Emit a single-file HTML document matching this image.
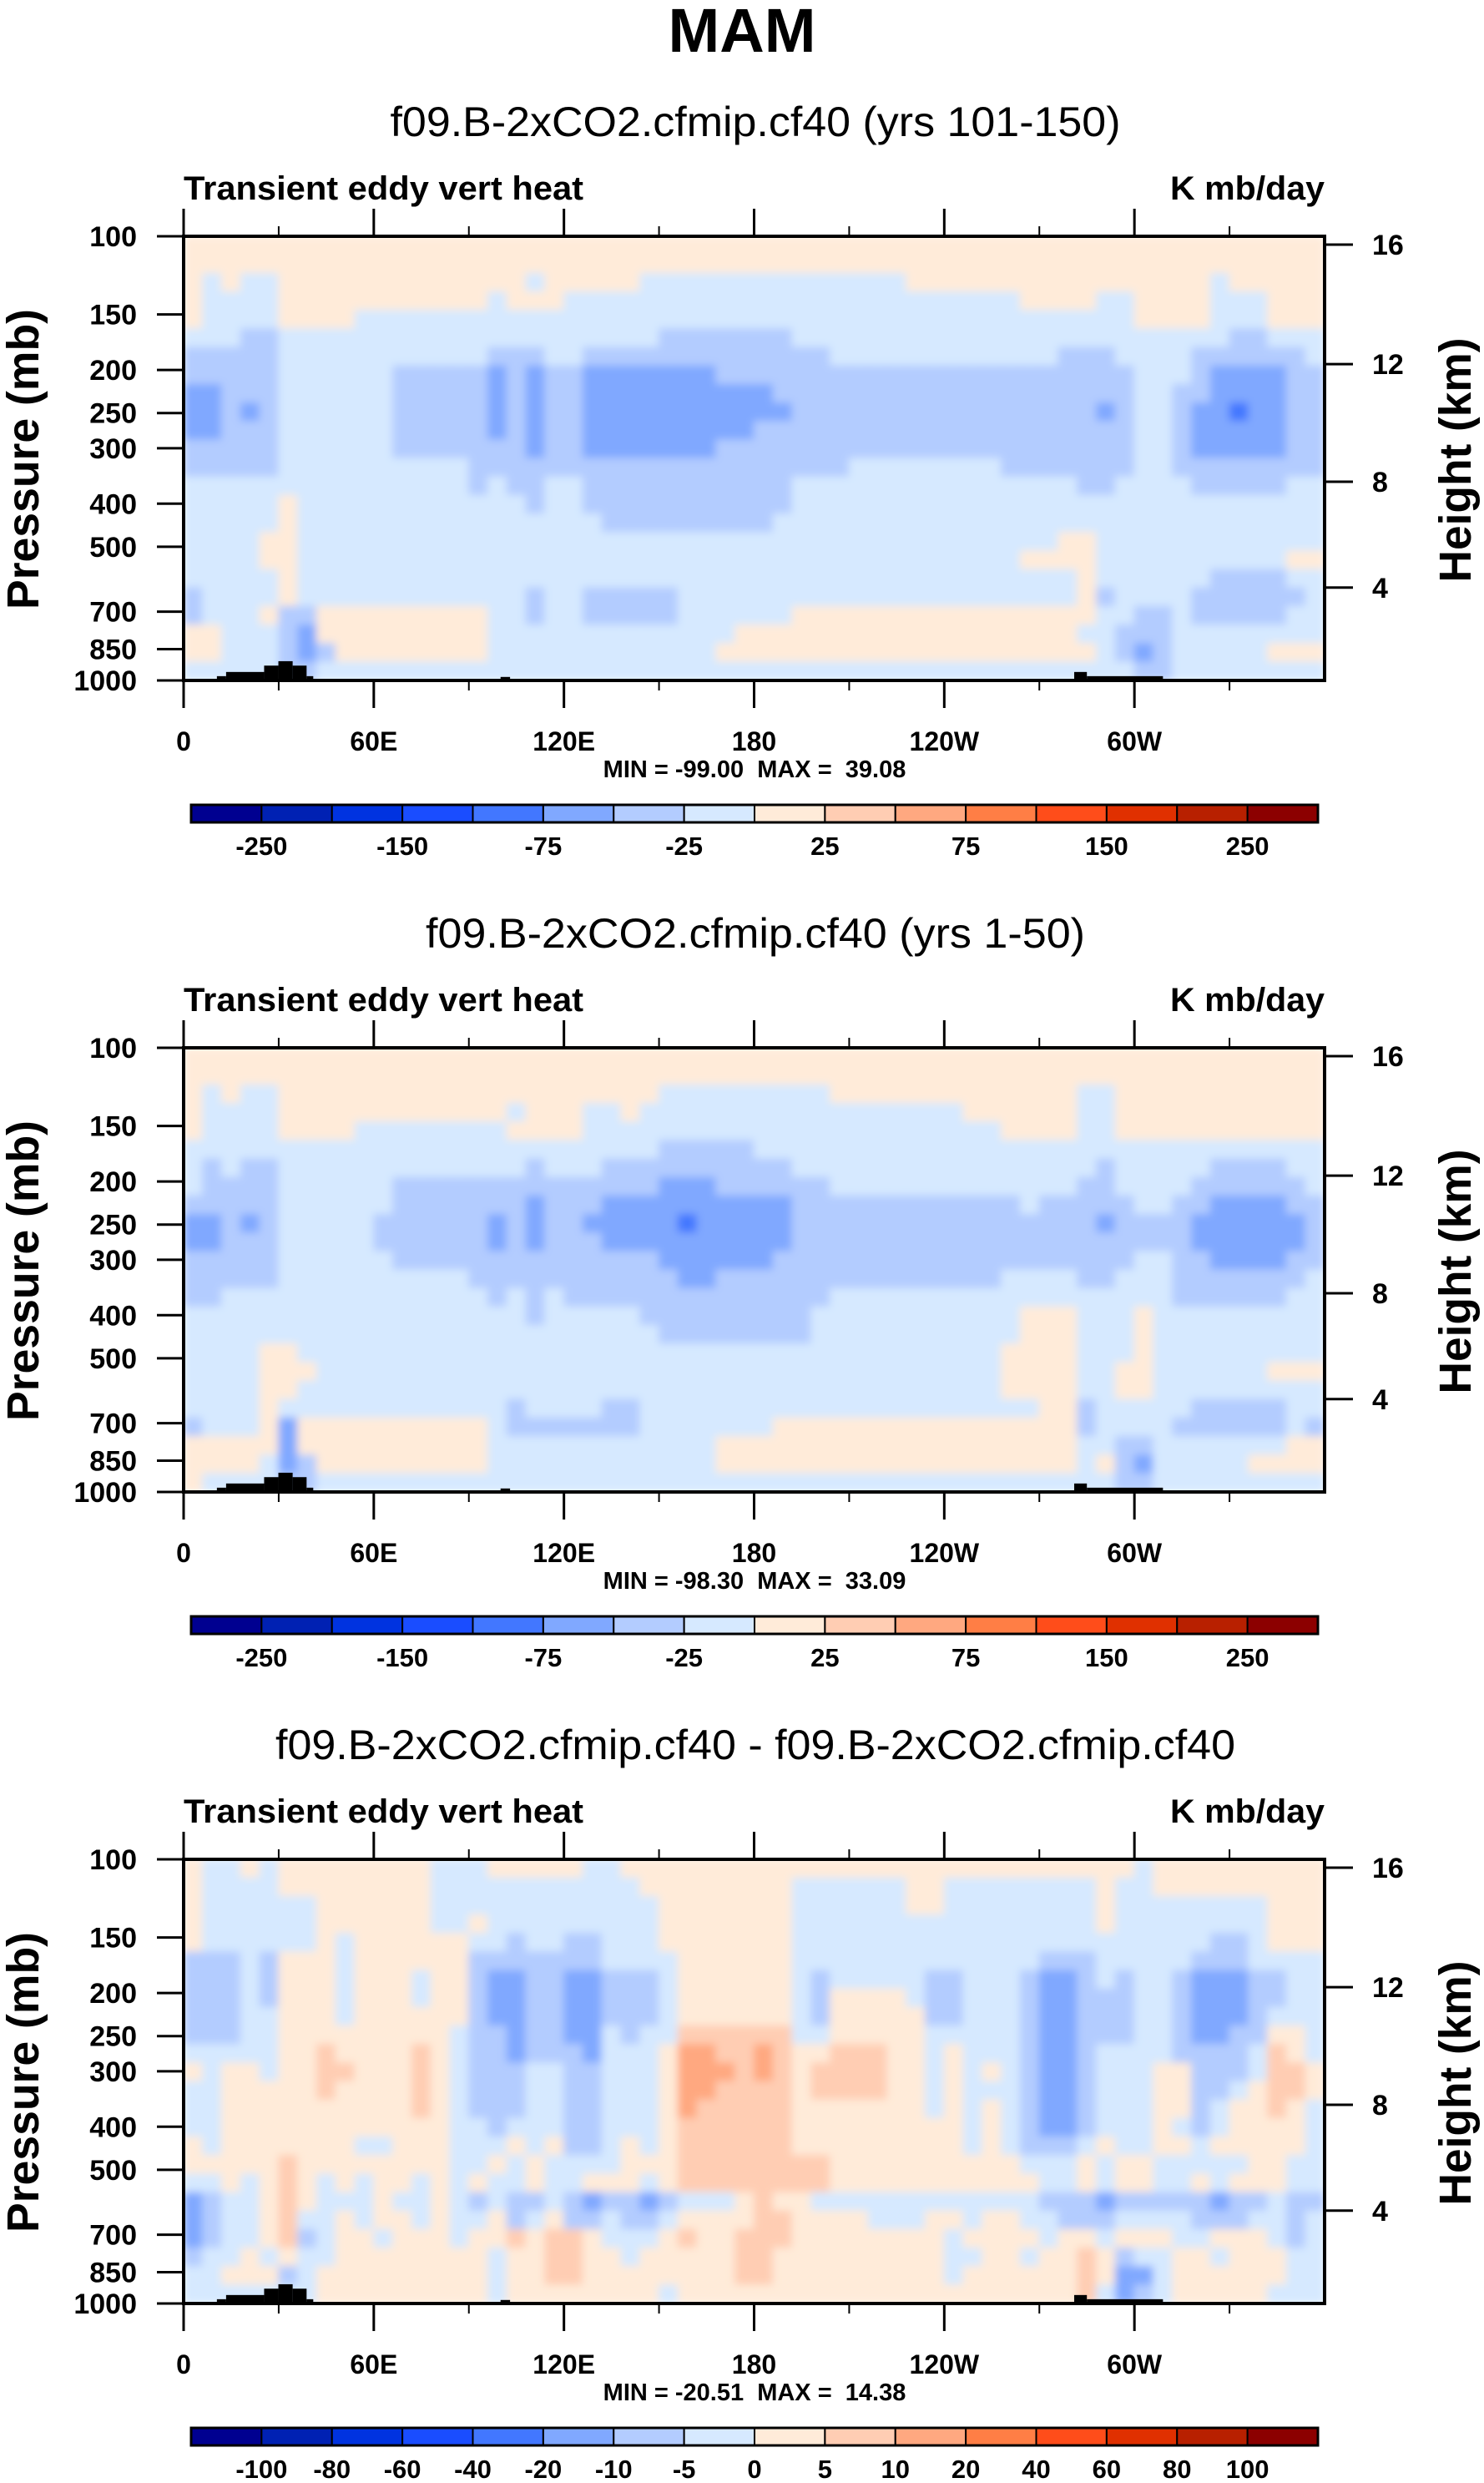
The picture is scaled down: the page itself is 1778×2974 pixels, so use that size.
<!DOCTYPE html>
<html><head><meta charset="utf-8"><title>MAM Transient eddy vert heat</title>
<style>
html,body{margin:0;padding:0;background:#fff;}
svg{display:block;}
text{font-family:"Liberation Sans",Arial,sans-serif;fill:#000;}
</style></head>
<body>
<svg id="chart" xmlns="http://www.w3.org/2000/svg" width="1778" height="2974" viewBox="0 0 1778 2974">
<rect x="0" y="0" width="1778" height="2974" fill="#fff"/>
<text x="889" y="62" text-anchor="middle" font-size="74" font-weight="bold" textLength="177" lengthAdjust="spacingAndGlyphs">MAM</text>
</svg>
<script>
// ---------- data ----------
const lons=[3,9,15,21,27,33,39,45,51,57,63,69,75,81,87,93,99,105,111,117,123,129,135,141,147,153,159,165,171,177,183,189,195,201,207,213,219,225,231,237,243,249,255,261,267,273,279,285,291,297,303,309,315,321,327,333,339,345,351,357];
const levels=[105,115.5,127.2,139.9,154,169.5,186.6,205.4,226.1,248.8,273.8,301.5,331.7,365.2,401.9,442.4,487,536,590,649,715,787,866,953];
const presTicks=[100,150,200,250,300,400,500,700,850,1000];
const heightTicks=["16","12","8","4"];
const heightPressures=[104.4,194,357,618];
const lonTicks=[0,60,120,180,240,300];
const lonTickLabels=["0","60E","120E","180","120W","60W"];
const lonMinorTicks=[30,90,150,210,270,330];
const palette=["#000090","#0021b3","#0033e0","#1a4dff","#4277ff","#80a8ff","#b3ccff","#d6e9ff","#ffebd9","#ffcdb3","#ffa880","#ff7e45","#ff4d1a","#e03000","#b82000","#8c0000"];
const cbLabelsAbs=["-250","-150","-75","-25","25","75","150","250"];
const cbLabelsAbsAt=[1,3,5,7,9,11,13,15];
const cbLabelsDiff=["-100","-80","-60","-40","-20","-10","-5","0","5","10","20","40","60","80","100"];
const cbLabelsDiffAt=[1,2,3,4,5,6,7,8,9,10,11,12,13,14,15];
const topoLon0=[10.5,13.4,25.4,29.9,34.4,38.8,100,281,285];
const topoLon1=[13.4,25.4,29.9,34.4,38.8,40.9,103,285,309];
const topoP=[978,957,926,905,926,978,982,957,978];

const field1=[
"8888888888"+"8888888888"+"8888888888"+"8888888888"+"8888888888"+"8888888888",
"8888888888"+"8888888888"+"8888888888"+"8888888888"+"8888888888"+"8888888888",
"87877"+"8888888888"+"888788888"+"7777777777"+"7777"+"888888"+"8888888888"+"7"+"88888",
"87777"+"8888888888"+"878887777"+"7777777777"+"7777777777"+"8888"+"77"+"8888"+"777"+"888",
"87777"+"8888"+"777777"+"7777777777"+"7777777777"+"7777777777"+"77777"+"8888"+"777"+"888",
"777"+"66"+"7777777777"+"7777777777"+"6666666"+"7777777777"+"7777777777"+"777"+"66"+"777",
"66666"+"777777"+"77777"+"666"+"77"+"6666666666"+"666"+"7777777777"+"7"+"7"+"666"+"777"+"7"+"666666"+"7",
"66666"+"777777"+"66666"+"5"+"6"+"5"+"66"+"5555555"+"666666"+"6666666666"+"66666"+"6"+"77"+"7"+"6"+"5555"+"66",
"55666"+"777777"+"66666"+"5"+"6"+"5"+"66"+"5555555555"+"6"+"6666666666"+"666666"+"66"+"77"+"66"+"5555"+"66",
"55656"+"777777"+"66666"+"5"+"6"+"5"+"66"+"5555555555"+"5"+"6666666666"+"666666"+"5"+"6"+"77"+"6"+"5"+"545"+"5"+"66",
"55666"+"777777"+"66666"+"565"+"66"+"555555555"+"66"+"6666666666"+"6666666"+"6"+"77"+"6"+"55555"+"66",
"66666"+"777777"+"66666"+"66"+"5"+"66"+"5555555"+"6666"+"6666666666"+"6666666"+"6"+"77"+"6"+"55555"+"66",
"66666"+"777777"+"7777"+"666666"+"66666666666"+"666"+"77777777"+"6666666"+"77"+"66666666",
"777777777777777"+"6"+"7"+"66"+"77"+"66666666666"+"777777777777777"+"66"+"7777"+"66666"+"77",
"77777"+"8"+"777777777777"+"6"+"77"+"66666666666"+"7777777777"+"7777777777"+"77777777",
"77777"+"8"+"7777777777777777"+"666666666"+"7777777777"+"7777777777"+"777777777",
"7777"+"88"+"7777777777"+"7777777777"+"7777777777"+"7777777777"+"88"+"777777777777",
"7777"+"88"+"7777777777"+"7777777777"+"7777777777"+"77777777"+"8888"+"7777777777"+"88",
"77777"+"8"+"7777777777"+"7777777777"+"7777777777"+"7777777777"+"7"+"8"+"777777"+"6666"+"77",
"6"+"7777"+"8"+"777777777777"+"6"+"77"+"66666"+"7777777777"+"7777777777"+"7"+"8"+"6"+"7777"+"666666"+"7",
"6"+"777"+"8"+"66"+"888888888"+"77"+"6"+"77"+"66666"+"77"+"7777"+"888888888888888"+"8"+"77"+"66"+"7"+"66666"+"77",
"88"+"777"+"65"+"888888888"+"777777777777"+"7"+"888888888888888888"+"77"+"666"+"77777777",
"88"+"777"+"656"+"88888888"+"777777777777"+"8888888888888888888"+"8"+"7"+"656"+"77777"+"888",
"77777"+"66"+"7777777777"+"7777777777"+"7777777777"+"7777777777"+"777"+"66"+"77777777"
];
const field2=[
"8888888888"+"8888888888"+"8888888888"+"8888888888"+"8888888888"+"8888888888",
"8888888888"+"8888888888"+"8888888888"+"8888888888"+"8888888888"+"8888888888",
"8"+"7"+"8"+"77"+"88888888888888888888"+"777777777"+"8888888888888"+"77"+"88888888888",
"8"+"7777"+"888888888888"+"7"+"888"+"77"+"8"+"77777777777777777"+"888888"+"77"+"88888888888",
"8"+"7777"+"8888"+"777"+"77777"+"8888"+"7777777777777777777777"+"8888"+"77"+"88888888888",
"7777777777777777777777777"+"66666"+"777777777777777777777777777777",
"7"+"6"+"7"+"66"+"7777777777777"+"6"+"77"+"7"+"6666666666"+"7777777777777777"+"6"+"77777"+"6666"+"77",
"7"+"6666"+"777777"+"6666666666"+"6666"+"555"+"666666"+"7777777777777"+"66"+"7777"+"666666"+"7",
"66666"+"777777"+"66666"+"6"+"6"+"5"+"666"+"5555555555"+"666666666666"+"7"+"66666"+"77"+"66"+"5555"+"66",
"55656"+"77777"+"6"+"66666"+"5"+"6"+"5"+"66"+"5"+"5555"+"4"+"55555"+"6"+"66666666666"+"6"+"666"+"5"+"666"+"6"+"555555"+"6",
"55666"+"77777"+"6"+"66666"+"5"+"6"+"5"+"666"+"5555555555"+"6"+"66666666666"+"6"+"6666666"+"6"+"555555"+"6",
"66666"+"777777"+"66666666666"+"666"+"555555"+"6"+"66666666666"+"6666666"+"77"+"66"+"5555"+"66",
"66666"+"777777"+"7777"+"6666666"+"6666"+"55"+"666666"+"666666666"+"7777"+"66"+"777"+"6666666"+"7",
"66777"+"77777777777"+"6"+"7"+"6"+"7"+"66"+"66666666666"+"6"+"777777777777777777"+"666666"+"77",
"777777777777777777"+"6"+"77777"+"666666666"+"77777777777"+"888"+"777"+"8"+"777777777",
"7777777777777777777777777"+"66666666"+"77777777777"+"888"+"777"+"8"+"777777777",
"7777"+"88"+"7777777777"+"7777777777"+"7777777777"+"7777777"+"8888"+"777"+"8"+"777777777",
"7777"+"888"+"7777777777"+"7777777777"+"7777777777"+"777777"+"8888"+"77"+"88"+"777777"+"888",
"7777"+"88"+"7777777777"+"7777777777"+"7777777777"+"7777777"+"8888"+"77"+"88"+"777777777",
"7777"+"8"+"777777777777"+"6"+"7"+"7"+"7"+"7"+"66"+"777777777777777777777"+"88"+"6"+"77777"+"66666"+"77",
"6"+"777"+"8"+"5"+"8888888888"+"7"+"6"+"666"+"666"+"7777"+"7"+"77"+"888888888888888"+"8"+"6"+"7"+"77"+"7"+"666666"+"7"+"6",
"8888"+"8"+"5"+"8888888888"+"777777777777"+"888888888888888888"+"8"+"77"+"66"+"777777"+"7"+"88",
"8888"+"7"+"5"+"6"+"888888888"+"777777777777"+"888888888888888888"+"8"+"7"+"8"+"6"+"5"+"7"+"7777"+"8888",
"8"+"7777"+"66"+"7777777777"+"7777777777"+"7777777777"+"7777777777"+"77"+"66"+"777777777"
];
const field3=[
"8"+"77"+"8"+"7"+"88888888"+"777"+"88888"+"77"+"888888888888888888888888888"+"7"+"888888888",
"8"+"7777"+"88888888"+"77777777777"+"88888888"+"77777"+"7"+"88"+"77777777"+"8"+"77"+"888888888",
"8"+"7777"+"77"+"888888"+"777777777777"+"8888888"+"777777"+"88"+"77777777"+"8"+"7777777"+"7"+"888",
"8"+"7777"+"77"+"888888"+"77"+"8"+"777777777"+"8888888"+"7777777777777777"+"8"+"77777777"+"888",
"8"+"7777"+"77"+"8"+"7"+"8888"+"88"+"7"+"7"+"6"+"77"+"66"+"777"+"8888888"+"7777777777777777777777"+"66"+"7"+"888",
"666"+"7"+"6"+"888"+"7"+"888888"+"6666666"+"7777"+"888888"+"7777777777777"+"666"+"77777"+"666"+"7777",
"666"+"7"+"6"+"888"+"7"+"888"+"7"+"88"+"6"+"5"+"5"+"6"+"6"+"55"+"666"+"7"+"888888"+"7"+"6"+"77777"+"6"+"6"+"777"+"6"+"55"+"6"+"7"+"6"+"77"+"6"+"555"+"66"+"77",
"66"+"6"+"7"+"6"+"888"+"7"+"888"+"7"+"88"+"6"+"55"+"66"+"55"+"666"+"7"+"888888"+"7"+"6"+"8888"+"7"+"66"+"777"+"6"+"55"+"6"+"6"+"6"+"77"+"6"+"555"+"66"+"77",
"666"+"7"+"7"+"888"+"7"+"888"+"888"+"6"+"55"+"66"+"55"+"666"+"7"+"888888"+"7"+"6"+"88888"+"66"+"777"+"6"+"55"+"666"+"77"+"6"+"555"+"6"+"777",
"666"+"77"+"8888"+"8888"+"8"+"7"+"66"+"5"+"66"+"55"+"7"+"6"+"77"+"999999"+"77"+"88888"+"7"+"7"+"777"+"6"+"55"+"666"+"77"+"6"+"55"+"66"+"88"+"7",
"77777"+"88"+"9"+"8888"+"9"+"8"+"7"+"66"+"5"+"666"+"5"+"777"+"8"+"AA"+"99"+"A"+"9"+"88"+"999"+"88"+"7"+"8"+"777"+"6"+"55"+"6"+"7777"+"6"+"666"+"7"+"9"+"8"+"7",
"8"+"7"+"88"+"7"+"88"+"99"+"888"+"9"+"8"+"7"+"666"+"77"+"66"+"777"+"8"+"AAA"+"9"+"A"+"9"+"8"+"9999"+"88"+"7"+"8"+"7"+"8"+"7"+"6"+"55"+"6"+"777"+"88"+"666"+"7"+"99"+"8",
"77"+"888"+"88"+"9"+"8"+"888"+"9"+"8"+"7"+"666"+"77"+"66"+"777"+"8"+"AA"+"9999"+"8"+"9999"+"88"+"7"+"8"+"777"+"6"+"55"+"6"+"777"+"88"+"66"+"7"+"8"+"99"+"8",
"77"+"88888"+"88"+"888"+"9"+"8"+"7"+"666"+"77"+"66"+"777"+"8"+"A"+"99999"+"88"+"88888"+"7"+"8"+"7"+"8"+"7"+"6"+"55"+"6"+"777"+"88"+"6"+"7"+"8"+"8"+"9"+"8"+"7",
"77"+"888"+"888888888"+"77"+"6"+"777"+"66"+"777"+"8"+"999999"+"8"+"88888888"+"7"+"8"+"7"+"6"+"55"+"6"+"777"+"8"+"7"+"6"+"7"+"8888"+"7",
"8"+"7"+"8888888"+"77"+"888"+"777"+"8"+"7"+"8"+"66"+"7"+"8"+"7"+"8"+"999999"+"8"+"88888888"+"7"+"8"+"7"+"666"+"7"+"8"+"77"+"88"+"7"+"8"+"8888"+"7",
"88888"+"9"+"88"+"888888"+"77"+"8"+"7"+"8"+"7777"+"888"+"99999999"+"8888888888"+"777"+"8"+"7"+"88"+"77777"+"88"+"77",
"77"+"8"+"7"+"8"+"9"+"8"+"7"+"8"+"7"+"88"+"7"+"8"+"7"+"8"+"77"+"8"+"77"+"888"+"7"+"8"+"99999999"+"88888888888"+"77"+"8"+"7"+"88"+"77"+"8"+"7"+"888"+"77",
"56"+"77"+"8"+"9"+"8"+"777"+"8"+"77"+"8"+"7"+"6"+"7"+"66"+"7"+"65"+"66"+"5"+"6"+"777"+"8"+"9"+"88"+"77777777777"+"7"+"666"+"5"+"6666"+"6"+"5"+"66"+"7"+"66",
"56"+"77"+"8"+"9"+"77"+"8"+"7"+"88"+"7"+"8"+"77"+"8"+"6"+"7"+"8"+"66"+"7"+"66"+"7"+"8888"+"99"+"8888"+"777"+"88"+"7"+"88"+"77"+"666"+"7777"+"666"+"77"+"6"+"7",
"56"+"77"+"8"+"9"+"6"+"7"+"88"+"7"+"888"+"7"+"88"+"9"+"8"+"99"+"8"+"777"+"8"+"9"+"88"+"999"+"88888888"+"7"+"8888"+"7"+"88"+"7"+"888"+"77"+"888"+"7"+"6"+"7",
"6"+"77"+"8"+"7"+"8"+"77"+"88888888"+"7"+"88"+"99"+"88"+"7"+"88888"+"99"+"888888888"+"77"+"88"+"7"+"88"+"9"+"8"+"6"+"77"+"88"+"7"+"888"+"77",
"77"+"888"+"6"+"7"+"888888888"+"7"+"88"+"99"+"88888888"+"99"+"888888888"+"7"+"888888"+"9"+"8"+"55"+"7"+"888888"+"77",
"7777777"+"888888888"+"7"+"88888888"+"7"+"888888888888888888888"+"9"+"7"+"5"+"6"+"7"+"88888"+"777"
];

// ---------- layout helpers ----------
const NS="http://www.w3.org/2000/svg";
const svg=document.getElementById("chart");
const PL=220, PR=1587, PH=532;
function xOf(lon){return PL+(PR-PL)*lon/360;}
function mk(tag,attrs,parent){const e=document.createElementNS(NS,tag);for(const k in attrs)e.setAttribute(k,attrs[k]);(parent||svg).appendChild(e);return e;}
function txt(s,attrs,parent){const t=mk("text",attrs,parent);t.textContent=s;return t;}

const defs=mk("defs",{});
const flt=mk("filter",{id:"soft",x:"0",y:"0",width:"1",height:"1"},defs);
mk("feGaussianBlur",{stdDeviation:"5",edgeMode:"duplicate"},flt);

const panels=[
 {T:283,title:"f09.B-2xCO2.cfmip.cf40 (yrs 101-150)",field:field1,labels:cbLabelsAbs,at:cbLabelsAbsAt,minmax:"MIN = -99.00  MAX =  39.08",tw:875},
 {T:1255,title:"f09.B-2xCO2.cfmip.cf40 (yrs 1-50)",field:field2,labels:cbLabelsAbs,at:cbLabelsAbsAt,minmax:"MIN = -98.30  MAX =  33.09",tw:790},
 {T:2227,title:"f09.B-2xCO2.cfmip.cf40 - f09.B-2xCO2.cfmip.cf40",field:field3,labels:cbLabelsDiff,at:cbLabelsDiffAt,minmax:"MIN = -20.51  MAX =  14.38",tw:1150}
];

panels.forEach((P,pi)=>{
  const T=P.T;
  const yOf=p=>T+PH*(Math.log10(p)-2);
  const g=mk("g",{});
  
  

  const st=txt(P.title,{x:905,y:T-120,"text-anchor":"middle","font-size":"50",textLength:P.tw,lengthAdjust:"spacingAndGlyphs"},g);
  
  
  const lt=txt("Transient eddy vert heat",{x:PL,y:T-44,"font-size":"40","font-weight":"bold",textLength:479,lengthAdjust:"spacingAndGlyphs"},g);
  
  
  const ut=txt("K mb/day",{x:PR,y:T-44,"font-size":"40","font-weight":"bold","text-anchor":"end",textLength:185,lengthAdjust:"spacingAndGlyphs"},g);
  
  

  const cg=mk("g",{filter:"url(#soft)"},g);
  
  
  const lonEdge=i=>i<=0?0:(i>=lons.length?360:(lons[i-1]+lons[i])/2);
  const pEdge=r=>r<=0?100:(r>=levels.length?1000:Math.sqrt(levels[r-1]*levels[r]));
  P.field.forEach((rowStr,r)=>{
    let s=rowStr; while(s.length<lons.length)s+=s[s.length-1]; s=s.slice(0,lons.length);
    const y0=yOf(pEdge(r)), y1=yOf(pEdge(r+1));
    for(let i=0;i<lons.length;i++){
      const lv=parseInt(s[i],16);
      const x0=xOf(lonEdge(i)), x1=xOf(lonEdge(i+1));
      const c=mk("rect",{x:x0-0.5,y:y0-0.5,width:x1-x0+1,height:y1-y0+1,fill:palette[lv]},cg);
      
      
    }
  });
  mk("rect",{x:0,y:T-8,width:PL-2,height:PH+16,fill:"#fff"},g);
  mk("rect",{x:PR+2,y:T-8,width:1778-PR-2,height:PH+16,fill:"#fff"},g);

  topoP.forEach((p,k)=>{
    const tr=mk("rect",{x:xOf(topoLon0[k]),y:yOf(p),width:xOf(topoLon1[k])-xOf(topoLon0[k]),height:yOf(1000)-yOf(p),fill:"#000"},g);
    
    
  });

  const fr=mk("rect",{x:PL,y:T,width:PR-PL,height:PH,fill:"none",stroke:"#000","stroke-width":"4"},g);
  
  

  presTicks.forEach(p=>{
    const y=yOf(p);
    mk("line",{x1:188,y1:y,x2:PL,y2:y,stroke:"#000","stroke-width":"3"},g);
    const t=txt(String(p),{x:164,y:y+12,"font-size":"34","font-weight":"bold","text-anchor":"end"},g);
    
    
  });
  heightPressures.forEach((p,k)=>{
    const y=yOf(p);
    mk("line",{x1:PR,y1:y,x2:1621,y2:y,stroke:"#000","stroke-width":"3"},g);
    const t=txt(heightTicks[k],{x:1644,y:y+12,"font-size":"34","font-weight":"bold"},g);
    
    
  });
  lonTicks.forEach((lon,k)=>{
    const x=xOf(lon);
    mk("line",{x1:x,y1:T-33,x2:x,y2:T,stroke:"#000","stroke-width":"3"},g);
    mk("line",{x1:x,y1:T+PH,x2:x,y2:T+PH+33,stroke:"#000","stroke-width":"3"},g);
    const t=txt(lonTickLabels[k],{x:x,y:T+PH+84,"font-size":"32","font-weight":"bold","text-anchor":"middle"},g);
    
    
  });
  lonMinorTicks.forEach(lon=>{
    const x=xOf(lon);
    mk("line",{x1:x,y1:T-12,x2:x,y2:T,stroke:"#000","stroke-width":"2"},g);
    mk("line",{x1:x,y1:T+PH,x2:x,y2:T+PH+12,stroke:"#000","stroke-width":"2"},g);
  });
  const ya=txt("Pressure (mb)",{x:0,y:0,"font-size":"54","font-weight":"bold","text-anchor":"middle",textLength:360,lengthAdjust:"spacingAndGlyphs",transform:`translate(46,${T+267}) rotate(-90)`},g);
  
  
  const yb=txt("Height (km)",{x:0,y:0,"font-size":"54","font-weight":"bold","text-anchor":"middle",textLength:293,lengthAdjust:"spacingAndGlyphs",transform:`translate(1762,${T+268}) rotate(-90)`},g);
  
  
  const mm=txt(P.minmax,{x:904,y:T+PH+116,"font-size":"29","font-weight":"bold","text-anchor":"middle",style:"white-space:pre"},g);
  
  

  const cbx0=229, cbx1=1579, cby=T+681, cbh=21, bw=(cbx1-cbx0)/palette.length;
  const cb=mk("g",{},g);
  
  
  palette.forEach((col,k)=>{
    const b=mk("rect",{x:cbx0+k*bw,y:cby,width:bw,height:cbh,fill:col,stroke:"#000","stroke-width":"2"},cb);
    
    
  });
  mk("rect",{x:cbx0,y:cby,width:cbx1-cbx0,height:cbh,fill:"none",stroke:"#000","stroke-width":"3"},cb);
  P.labels.forEach((s,k)=>{
    const t=txt(s,{x:cbx0+P.at[k]*bw,y:cby+60,"font-size":"31","font-weight":"bold","text-anchor":"middle"},cb);
    
    
  });
});
</script>
</body></html>
